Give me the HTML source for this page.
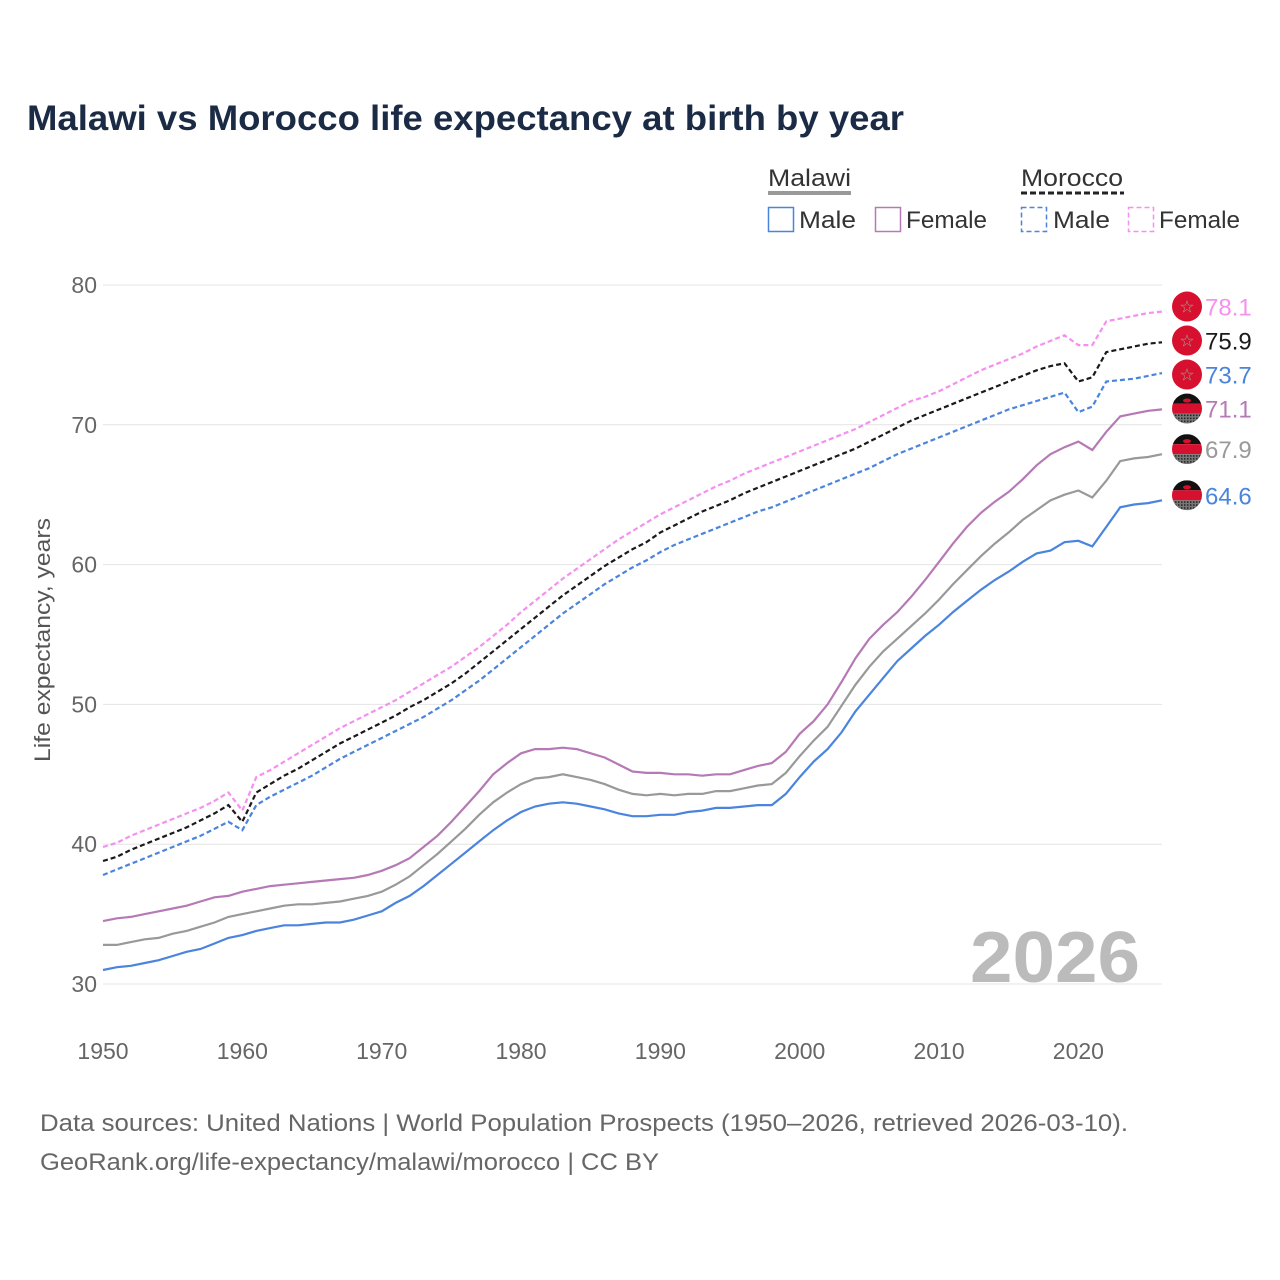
<!DOCTYPE html>
<html><head><meta charset="utf-8"><style>
body{margin:0;background:#fff;font-family:"Liberation Sans",sans-serif;}
svg{display:block}
text{font-family:"Liberation Sans",sans-serif;}
</style></head><body>
<svg id="chart" width="1280" height="1280" viewBox="0 0 1280 1280">
<defs>
<pattern id="dots" width="3" height="3" patternUnits="userSpaceOnUse"><rect width="3" height="3" fill="#777"/><rect width="1.5" height="1.5" fill="#222"/></pattern>
<clipPath id="fc"><circle cx="0" cy="0" r="15"/></clipPath>
</defs>
<text x="27" y="130" font-size="35" font-weight="bold" fill="#1b2b45" textLength="877" lengthAdjust="spacingAndGlyphs">Malawi vs Morocco life expectancy at birth by year</text>
<g>
<text x="768" y="186" font-size="24" fill="#333" textLength="83" lengthAdjust="spacingAndGlyphs">Malawi</text>
<line x1="768" y1="193" x2="851" y2="193" stroke="#999" stroke-width="4"/>
<text x="1021" y="186" font-size="24" fill="#333" textLength="102" lengthAdjust="spacingAndGlyphs">Morocco</text>
<line x1="1021" y1="193" x2="1124" y2="193" stroke="#222" stroke-width="3" stroke-dasharray="6,3"/>
<rect x="768.5" y="207.5" width="25" height="24" fill="none" stroke="#4a84dd" stroke-width="1.5"/>
<text x="799" y="228" font-size="24" fill="#333" textLength="57" lengthAdjust="spacingAndGlyphs">Male</text>
<rect x="875.5" y="207.5" width="25" height="24" fill="none" stroke="#b57ab5" stroke-width="1.5"/>
<text x="906" y="228" font-size="24" fill="#333" textLength="81" lengthAdjust="spacingAndGlyphs">Female</text>
<rect x="1021.5" y="207.5" width="25" height="24" fill="none" stroke="#4a84dd" stroke-width="1.5" stroke-dasharray="5,3"/>
<text x="1053" y="228" font-size="24" fill="#333" textLength="57" lengthAdjust="spacingAndGlyphs">Male</text>
<rect x="1128.5" y="207.5" width="25" height="24" fill="none" stroke="#f590f0" stroke-width="1.5" stroke-dasharray="5,3"/>
<text x="1159" y="228" font-size="24" fill="#333" textLength="81" lengthAdjust="spacingAndGlyphs">Female</text>
</g>
<g id="grid"></g>
<text x="970" y="982" font-size="72" font-weight="bold" fill="#bbb" textLength="170" lengthAdjust="spacingAndGlyphs">2026</text>
<text transform="translate(50,640) rotate(-90)" font-size="22" fill="#555" text-anchor="middle" textLength="244" lengthAdjust="spacingAndGlyphs">Life expectancy, years</text>
<g id="series"></g>
<g id="labels"></g>
<text x="40" y="1131" font-size="24" fill="#666" textLength="1088" lengthAdjust="spacingAndGlyphs">Data sources: United Nations | World Population Prospects (1950–2026, retrieved 2026-03-10).</text>
<text x="40" y="1170" font-size="24" fill="#666" textLength="619" lengthAdjust="spacingAndGlyphs">GeoRank.org/life-expectancy/malawi/morocco | CC BY</text>
</svg>
<script>
const startYear = 1950;
const xTicks = [1950,1960,1970,1980,1990,2000,2010,2020];
const yTicks = [30,40,50,60,70,80];
const malawiMale = [31.0,31.2,31.3,31.5,31.7,32.0,32.3,32.5,32.9,33.3, 33.5,33.8,34.0,34.2,34.2,34.3,34.4,34.4,34.6,34.9, 35.2,35.8,36.3,37.0,37.8,38.6,39.4,40.2,41.0,41.7, 42.3,42.7,42.9,43.0,42.9,42.7,42.5,42.2,42.0,42.0, 42.1,42.1,42.3,42.4,42.6,42.6,42.7,42.8,42.8,43.6, 44.8,45.9,46.8,48.0,49.5,50.7,51.9,53.1,54.0,54.9, 55.7,56.6,57.4,58.2,58.9,59.5,60.2,60.8,61.0,61.6, 61.7,61.3,62.7,64.1,64.3,64.4,64.6];
const malawiTotal = [32.8,32.8,33.0,33.2,33.3,33.6,33.8,34.1,34.4,34.8, 35.0,35.2,35.4,35.6,35.7,35.7,35.8,35.9,36.1,36.3, 36.6,37.1,37.7,38.5,39.3,40.2,41.1,42.1,43.0,43.7, 44.3,44.7,44.8,45.0,44.8,44.6,44.3,43.9,43.6,43.5, 43.6,43.5,43.6,43.6,43.8,43.8,44.0,44.2,44.3,45.1, 46.3,47.4,48.4,49.9,51.4,52.7,53.8,54.7,55.6,56.5, 57.5,58.6,59.6,60.6,61.5,62.3,63.2,63.9,64.6,65.0, 65.3,64.8,66.0,67.4,67.6,67.7,67.9];
const malawiFemale = [34.5,34.7,34.8,35.0,35.2,35.4,35.6,35.9,36.2,36.3, 36.6,36.8,37.0,37.1,37.2,37.3,37.4,37.5,37.6,37.8, 38.1,38.5,39.0,39.8,40.6,41.6,42.7,43.8,45.0,45.8, 46.5,46.8,46.8,46.9,46.8,46.5,46.2,45.7,45.2,45.1, 45.1,45.0,45.0,44.9,45.0,45.0,45.3,45.6,45.8,46.6, 47.9,48.8,50.0,51.6,53.3,54.7,55.7,56.6,57.7,58.9, 60.2,61.5,62.7,63.7,64.5,65.2,66.1,67.1,67.9,68.4, 68.8,68.2,69.5,70.6,70.8,71.0,71.1];
const moroccoMale = [37.8,38.2,38.6,39.0,39.4,39.8,40.2,40.6,41.1,41.6, 41.0,42.8,43.4,43.9,44.4,44.9,45.5,46.1,46.6,47.1, 47.6,48.1,48.6,49.1,49.7,50.3,51.0,51.7,52.5,53.3, 54.1,54.9,55.7,56.5,57.2,57.9,58.6,59.2,59.8,60.3, 60.9,61.4,61.8,62.2,62.6,63.0,63.4,63.8,64.1,64.5, 64.9,65.3,65.7,66.1,66.5,66.9,67.4,67.9,68.3,68.7, 69.1,69.5,69.9,70.3,70.7,71.1,71.4,71.7,72.0,72.3, 70.9,71.3,73.1,73.2,73.3,73.5,73.7];
const moroccoTotal = [38.8,39.1,39.6,40.0,40.4,40.8,41.2,41.7,42.2,42.8, 41.6,43.7,44.3,44.9,45.4,46.0,46.6,47.2,47.7,48.2, 48.7,49.2,49.8,50.3,50.9,51.5,52.2,53.0,53.8,54.6, 55.4,56.2,57.0,57.8,58.5,59.2,59.9,60.5,61.1,61.6, 62.3,62.8,63.3,63.8,64.2,64.6,65.1,65.5,65.9,66.3, 66.7,67.1,67.5,67.9,68.3,68.8,69.3,69.8,70.3,70.7, 71.1,71.5,71.9,72.3,72.7,73.1,73.5,73.9,74.2,74.4, 73.1,73.4,75.2,75.4,75.6,75.8,75.9];
const moroccoFemale = [39.8,40.1,40.6,41.0,41.4,41.8,42.2,42.6,43.1,43.7, 42.4,44.8,45.3,45.9,46.5,47.1,47.7,48.3,48.8,49.3, 49.8,50.3,50.9,51.5,52.1,52.7,53.4,54.1,54.9,55.7, 56.6,57.4,58.2,59.0,59.7,60.4,61.1,61.8,62.4,63.0, 63.6,64.1,64.6,65.1,65.6,66.0,66.5,66.9,67.3,67.7, 68.1,68.5,68.9,69.3,69.7,70.2,70.7,71.2,71.7,72.0, 72.4,72.9,73.4,73.9,74.3,74.7,75.1,75.6,76.0,76.4, 75.7,75.7,77.4,77.6,77.8,78.0,78.1];

const NS='http://www.w3.org/2000/svg';
const X0=103, X1=1162, Y0=984, Y1=285;
const xs = y => X0 + (y-1950)*(X1-X0)/76;
const ys = v => Y0 - (v-30)*(Y0-Y1)/50;
function mk(tag, attrs, parent){const e=document.createElementNS(NS,tag);for(const k in attrs)e.setAttribute(k,attrs[k]);parent.appendChild(e);return e;}
const grid=document.getElementById('grid');
yTicks.forEach(t=>{
  const l=mk('line',{x1:X0,x2:X1,y1:ys(t),y2:ys(t),stroke:'#e4e4e4','stroke-width':1},grid);
  
  
  const tx=mk('text',{x:97,y:ys(t)+8,'font-size':23,fill:'#666','text-anchor':'end'},grid);
  tx.textContent=t;
  
  
});
xTicks.forEach(t=>{
  const tx=mk('text',{x:xs(t),y:1059,'font-size':23,fill:'#666','text-anchor':'middle'},grid);
  tx.textContent=t;
  
  
});
const series=[
 {d:moroccoFemale,c:'#f590f0',dash:'5,3',n:'morocco-female',fl:'ma'},
 {d:moroccoTotal,c:'#1a1a1a',dash:'5,3',n:'morocco-total',fl:'ma'},
 {d:moroccoMale,c:'#4a84dd',dash:'5,3',n:'morocco-male',fl:'ma'},
 {d:malawiFemale,c:'#b57ab5',dash:'',n:'malawi-female',fl:'mw'},
 {d:malawiTotal,c:'#999',dash:'',n:'malawi-total',fl:'mw'},
 {d:malawiMale,c:'#4a84dd',dash:'',n:'malawi-male',fl:'mw'}];
const sg=document.getElementById('series'), lg=document.getElementById('labels');
let prev=-1e9;
series.forEach(s=>{
  const pts=s.d.map((v,i)=>xs(startYear+i).toFixed(1)+','+ys(v).toFixed(1)).join(' ');
  const p=mk('polyline',{points:pts,fill:'none',stroke:s.c,'stroke-width':2.2},sg);
  if(s.dash)p.setAttribute('stroke-dasharray',s.dash);
  
  
  const last=s.d[s.d.length-1];
  let y=ys(last)-5; if(y<prev+34)y=prev+34; prev=y;
  const g=mk('g',{transform:'translate(1187,'+y+')'},lg);
  
  
  if(s.fl==='ma'){
    mk('circle',{r:15,fill:'#d8102f'},g);
    const st=mk('text',{y:6,'font-size':17,fill:'#9a9','text-anchor':'middle'},g);st.textContent='☆';
  } else {
    const c=mk('g',{'clip-path':'url(#fc)'},g);
    mk('rect',{x:-15,y:-15,width:30,height:10,fill:'#111'},c);
    mk('rect',{x:-15,y:-5,width:30,height:10,fill:'#d8102f'},c);
    mk('rect',{x:-15,y:5,width:30,height:10,fill:'url(#dots)'},c);
    mk('ellipse',{cx:0,cy:-8,rx:4,ry:2,fill:'#d8102f'},c);
  }
  const t=mk('text',{x:18,y:9,'font-size':24,fill:s.c},g);
  t.textContent=last.toFixed(1);
  
  
});
</script>
</body></html>
